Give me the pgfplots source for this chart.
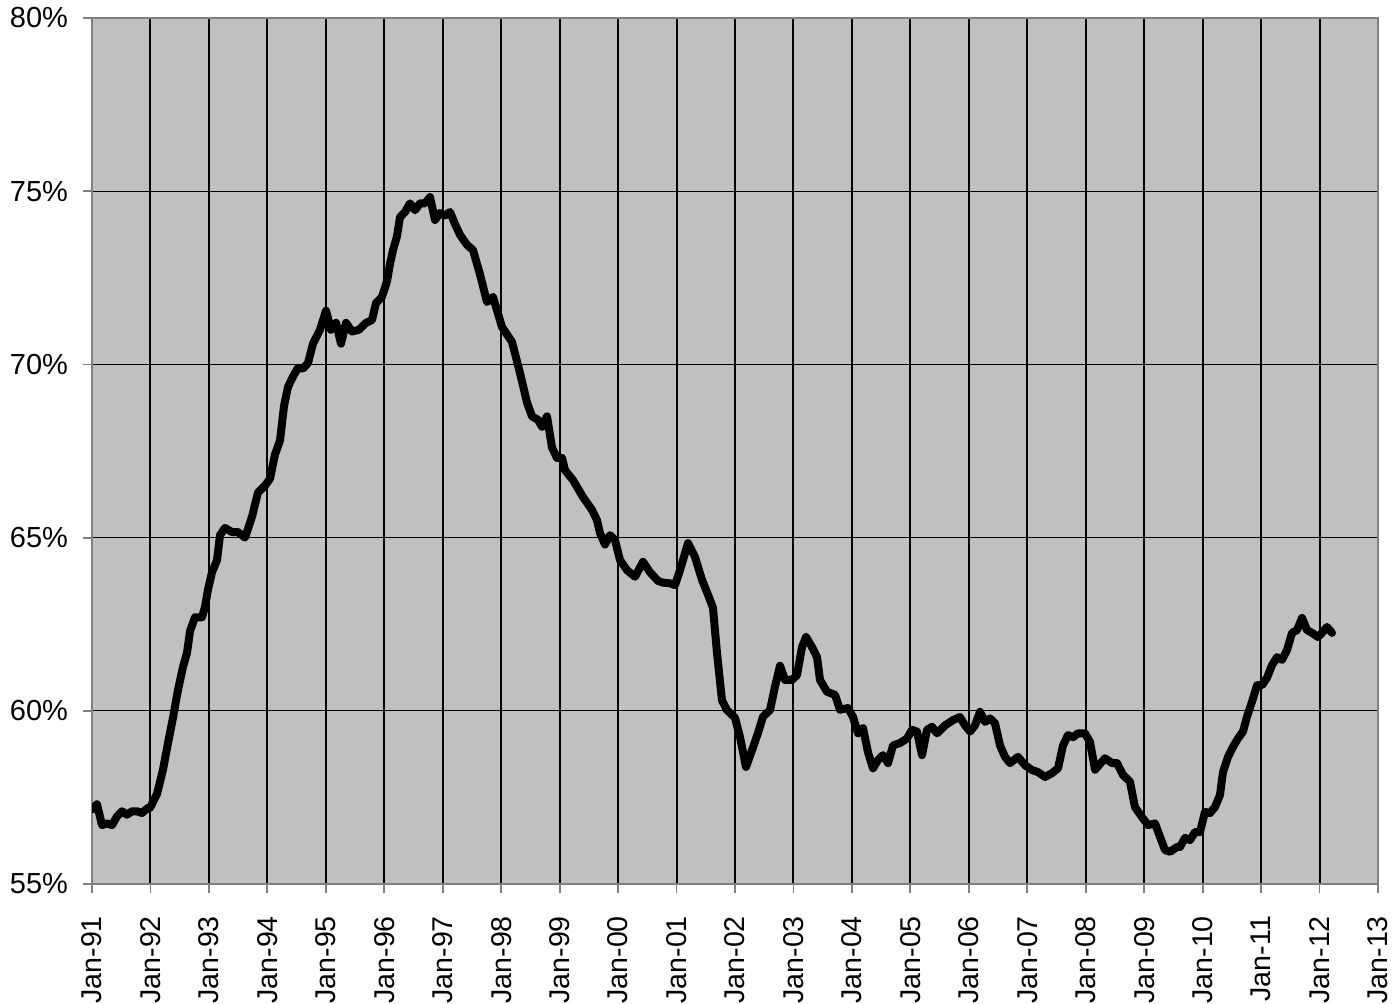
\documentclass[border=0pt]{standalone}
\usepackage{pgfplots}
\usepackage{pgfplotstable}
\pgfplotsset{compat=1.18}
\usepackage{fontspec}
\setmainfont{Liberation Sans}
\pgfplotstableread{
px val
92 57.15
97 57.3
102 56.7
107 56.75
112 56.7
117 56.95
122 57.1
127 57.0
132 57.1
137 57.1
142 57.05
148 57.2
150 57.2
157 57.6
163 58.3
168 59.07
173 59.8
178 60.6
183 61.27
187 61.67
190 62.3
195 62.7
202 62.7
205 63.0
208 63.5
212 64.0
217 64.35
220 65.07
225 65.28
232 65.16
238 65.16
245 65.0
252 65.6
258 66.3
265 66.5
270 66.7
275 67.4
280 67.8
284 68.8
288 69.35
293 69.65
298 69.9
303 69.88
308 70.04
313 70.6
320 71.0
326 71.55
331 71.0
336 71.2
341 70.6
346 71.2
352 70.95
359 71.0
366 71.2
372 71.28
376 71.77
382 71.95
387 72.4
390 72.9
393 73.3
397 73.7
400 74.25
405 74.4
410 74.65
415 74.45
420 74.65
425 74.65
430 74.83
435 74.17
440 74.37
445 74.3
450 74.4
455 74.05
460 73.74
467 73.45
473 73.3
480 72.6
487 71.8
493 71.95
502 71.08
512 70.65
520 69.75
527 68.9
532 68.5
538 68.4
542 68.2
547 68.5
552 67.6
557 67.3
562 67.3
565 66.95
573 66.66
583 66.17
592 65.8
597 65.5
600 65.13
605 64.8
610 65.07
615 64.93
620 64.35
627 64.06
635 63.87
643 64.3
650 64.0
658 63.75
663 63.7
670 63.68
675 63.63
680 64.06
688 64.84
695 64.44
702 63.78
708 63.35
713 62.97
717 61.67
722 60.3
727 60.02
735 59.8
740 59.24
746 58.38
752 58.86
758 59.36
763 59.83
770 60.02
775 60.7
780 61.3
785 60.89
792 60.89
797 61.03
802 61.84
806 62.13
812 61.84
817 61.55
820 60.89
827 60.55
835 60.46
840 60.03
848 60.08
853 59.82
858 59.35
863 59.5
868 58.8
873 58.34
878 58.58
883 58.72
888 58.49
893 59.0
900 59.07
907 59.2
912 59.45
917 59.4
922 58.72
927 59.45
932 59.54
937 59.35
945 59.58
953 59.73
960 59.82
965 59.58
970 59.4
975 59.58
980 59.97
985 59.68
990 59.78
995 59.64
1000 59.0
1005 58.67
1010 58.49
1018 58.67
1025 58.43
1032 58.29
1038 58.23
1045 58.09
1052 58.2
1058 58.34
1063 59.0
1068 59.3
1073 59.24
1078 59.35
1085 59.35
1090 59.1
1095 58.3
1105 58.63
1112 58.49
1117 58.49
1123 58.15
1130 57.95
1135 57.22
1142 56.93
1148 56.7
1155 56.75
1160 56.36
1165 55.98
1170 55.93
1177 56.07
1180 56.07
1185 56.33
1190 56.27
1195 56.5
1200 56.5
1205 57.08
1210 57.05
1215 57.22
1220 57.57
1223 58.23
1228 58.67
1233 58.96
1238 59.2
1243 59.4
1247 59.83
1252 60.26
1257 60.74
1262 60.74
1267 60.95
1272 61.32
1277 61.55
1282 61.47
1287 61.76
1292 62.25
1297 62.33
1302 62.68
1307 62.33
1312 62.25
1318 62.13
1322 62.25
1327 62.42
1332 62.25
}\datatable
\definecolor{plotbg}{HTML}{C0C0C0}
\definecolor{framegray}{HTML}{808080}
\begin{document}
\begin{tikzpicture}
\useasboundingbox (-46pt,-59.5pt) rectangle (651.5pt,442pt);
\begin{axis}[
  at={(0,0)}, anchor=south west,
  scale only axis,
  width=643pt, height=433pt,
  xmin=0, xmax=22, ymin=55, ymax=80,
  xtick={0,...,22},
  xticklabels={Jan-91,Jan-92,Jan-93,Jan-94,Jan-95,Jan-96,Jan-97,Jan-98,Jan-99,Jan-00,Jan-01,Jan-02,Jan-03,Jan-04,Jan-05,Jan-06,Jan-07,Jan-08,Jan-09,Jan-10,Jan-11,Jan-12,Jan-13},
  ytick={55,60,65,70,75,80},
  yticklabels={55\%,60\%,65\%,70\%,75\%,80\%},
  x tick label style={rotate=90, anchor=east, font=\fontsize{14.3}{16}\selectfont},
  y tick label style={font=\fontsize{14.5}{16}\selectfont},
  xticklabel shift=8pt,
  yticklabel shift=4pt,
  xtick pos=left, ytick pos=left,
  tick align=outside,
  major tick length=4.5pt,
  tick style={framegray, line width=0.9pt},
  axis line style={framegray, line width=1pt},
  axis background/.style={fill=plotbg},
  xmajorgrids, ymajorgrids,
  x grid style={black, line width=1pt},
  y grid style={black, line width=0.5pt},
  clip=true,
]
\addplot[black, line width=4pt, line join=round, line cap=round]
  table[x expr={(\thisrow{px}-92)/58.4545}, y=val] {\datatable};
\end{axis}
\end{tikzpicture}
\end{document}
